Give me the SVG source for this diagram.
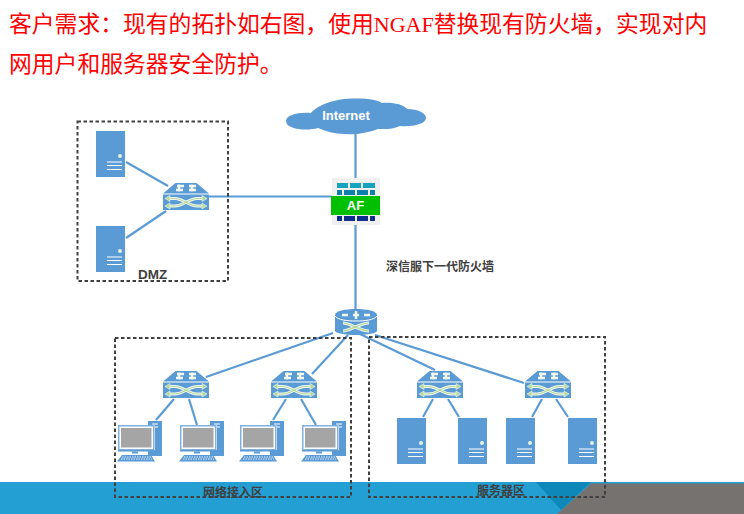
<svg xmlns="http://www.w3.org/2000/svg" width="744" height="514" viewBox="0 0 744 514">
<style>
.head{font-family:"Liberation Serif","Noto Sans CJK SC",serif;font-size:22.800px;fill:#ff0000}
.lbl{font-family:"Liberation Sans","Noto Sans CJK SC",sans-serif;font-size:12px;font-weight:700;fill:#404040}
.box{fill:none;stroke:#404040;stroke-width:2;stroke-dasharray:3.5 2.5}
.wire{stroke:#5b9bd5;stroke-width:2.2;fill:none}
.b{fill:#5b9bd5}
.gw{fill:none;stroke:#f4f8f0;stroke-width:3}
.g{fill:none;stroke:#b5d99c;stroke-width:1.2}
.tw{fill:none;stroke:#f2f7ee;stroke-width:2.4}
</style>
<defs>
<g id="sw">
<path class="b" d="M12.500 0H33.500L46 10.500H0Z"/>
<rect class="b" y="11.500" width="46" height="15.500"/>
<path class="tw" d="M14 3H21M26 3H33M13 7H20M26 7H33M16 1.500V8.500M29 1.500V8.500"/>
<path class="gw" d="M5 15.500H12C20 15.500 26 23 34 23H41M5 23H12C20 23 26 15.500 34 15.500H41"/>
<path class="g" d="M5 15.500H12C20 15.500 26 23 34 23H41M5 23H12C20 23 26 15.500 34 15.500H41"/>
<path d="M2 15.500L7 12.500V18.500ZM2 23L7 20V26ZM44 15.500L39 12.500V18.500ZM44 23L39 20V26Z" fill="#b5d99c" stroke="#f4f8f0" stroke-width=".6"/>
</g>
<g id="srv">
<rect class="b" width="29" height="46"/>
<circle cx="24" cy="25" r="2" fill="#e2f0d9"/>
<path stroke="#fff" d="M11 31H26M11 34.500H26M11 38.500H26"/>
</g>
<g id="pc">
<rect class="b" x="30" y="0" width="14" height="35"/>
<path stroke="#fff" d="M34 3H40M34 6H40"/>
<rect x="0" y="4" width="37" height="26" fill="#fff"/>
<rect x=".750" y="4.750" width="35" height="24" fill="#fff" stroke="#7fb0de" stroke-width="1.500"/>
<rect x="3" y="7" width="30.500" height="19.500" fill="#a5a5a5"/>
<rect x="0" y="29" width="37" height="1.500" fill="#5b9bd5"/>
<rect class="b" x="14" y="30.500" width="6" height="2"/>
<path class="b" d="M4 34H33L37 40.500H-1Z"/>
<path stroke="#fff" stroke-width=".8" stroke-dasharray="1.500 1" d="M4 36H33M3 38H34"/>
</g>
</defs>
<rect width="744" height="514" fill="#fff"/>
<g id="banner">
<rect y="482" width="744" height="32" fill="#249fd3"/>
<path d="M591 483.500H744V514H557Z" fill="#767270"/>
<path d="M536 482H591L561 510Z" fill="#0e87b9"/>
</g>
<text class="head" x="9" y="32">客户需求：现有的拓扑如右图，使用<tspan font-size="22">NGAF</tspan>替换现有防火墙，实现对内</text>
<text class="head" x="9" y="72">网用户和服务器安全防护。</text>
<g id="connectors" class="wire">
<path d="M355.500 134V178M355.500 225V309M209 196.500H332"/>
<path d="M126 162L168 186M126 238L166 211"/>
<path d="M206 377L333 333M312 374L348 335M360 334L435 370M375 335L524 383"/>
<path d="M174 399L156 420M189 399L197 425M286 399L273 420M301 399L316 425"/>
<path d="M433 399L423 417M448 399L459 417M542 399L532 417M556 399L568 417"/>
</g>
<g id="cloud"><path class="b" d="M286 121C286 115 298 112 311 113C316 107 330 99 352 98.500C368 98 378 100 382 103C392 102 403 104 407 109C418 109 426 113 426 118C426 124 412 127 400 126C392 130 383 129 378 129C368 133 355 135 345 134C335 134 325 131 318 128C308 131 286 130 286 121Z"/>
<text x="346" y="120" text-anchor="middle" font-family="Liberation Sans,sans-serif" font-size="13" font-weight="700" fill="#fff">Internet</text></g>
<g id="af">
<rect x="332" y="178" width="48" height="47" fill="#f0f0f0"/>
<g fill="#17a2bd"><rect x="337" y="183" width="11" height="5"/><rect x="350" y="183" width="11" height="5"/><rect x="363" y="183" width="12" height="5"/></g>
<g fill="#0f80ab"><rect x="337" y="190" width="5" height="5"/><rect x="344" y="190" width="11" height="5"/><rect x="357" y="190" width="11" height="5"/><rect x="370" y="190" width="5" height="5"/></g>
<rect x="331" y="196" width="49" height="19" fill="#00c000"/>
<g fill="#0f2f8f"><rect x="337" y="216" width="5" height="5"/><rect x="344" y="216" width="11" height="5"/><rect x="357" y="216" width="11" height="5"/><rect x="370" y="216" width="5" height="5"/></g>
<text x="355.500" y="210" text-anchor="middle" font-family="Liberation Sans,sans-serif" font-size="13" font-weight="700" fill="#fff">AF</text>
</g>
<g id="router">
<path class="b" d="M335 315C335 311 345 309 356 309C367 309 377 311 377 315V331C377 333 367 335 356 335C345 335 335 333 335 331Z"/>
<path d="M335 316C338 320 347 321 356 321C365 321 374 320 377 316" fill="none" stroke="#fff"/>
<path class="tw" d="M342 315H348M353 315H359M364 315H370M356 311V319"/>
<path class="gw" d="M343 323C350 323 360 331 369 331M343 331C350 331 360 323 369 323"/>
<path class="g" d="M343 323C350 323 360 331 369 331M343 331C350 331 360 323 369 323"/>
</g>
<g id="dmz-server1"><use href="#srv" x="96" y="131"/></g>
<g id="dmz-server2"><use href="#srv" x="96" y="226"/></g>
<g id="dmz-switch"><use href="#sw" x="163" y="183"/></g>
<g id="sw1"><use href="#sw" x="163" y="371"/></g>
<g id="sw2"><use href="#sw" x="271" y="371"/></g>
<g id="sw3"><use href="#sw" x="417" y="371"/></g>
<g id="sw4"><use href="#sw" x="525" y="371"/></g>
<g id="pc1"><use href="#pc" x="118" y="421"/></g>
<g id="pc2"><use href="#pc" x="180" y="421"/></g>
<g id="pc3"><use href="#pc" x="240" y="421"/></g>
<g id="pc4"><use href="#pc" x="302" y="421"/></g>
<g id="srv1"><use href="#srv" x="397" y="418"/></g>
<g id="srv2"><use href="#srv" x="458" y="418"/></g>
<g id="srv3"><use href="#srv" x="506" y="418"/></g>
<g id="srv4"><use href="#srv" x="568" y="418"/></g>
<g id="zones">
<rect class="box" x="77.500" y="121.500" width="150.500" height="159.500"/>
<rect class="box" x="115" y="338" width="236" height="159"/>
<rect class="box" x="369" y="337" width="236" height="160"/>
</g>
<text class="lbl" x="138" y="279" style="font-size:13.500px">DMZ</text>
<text class="lbl" x="386" y="271">深信服下一代防火墙</text>
<text class="lbl" x="203" y="497">网络接入区</text>
<text class="lbl" x="477" y="495">服务器区</text>
</svg>
